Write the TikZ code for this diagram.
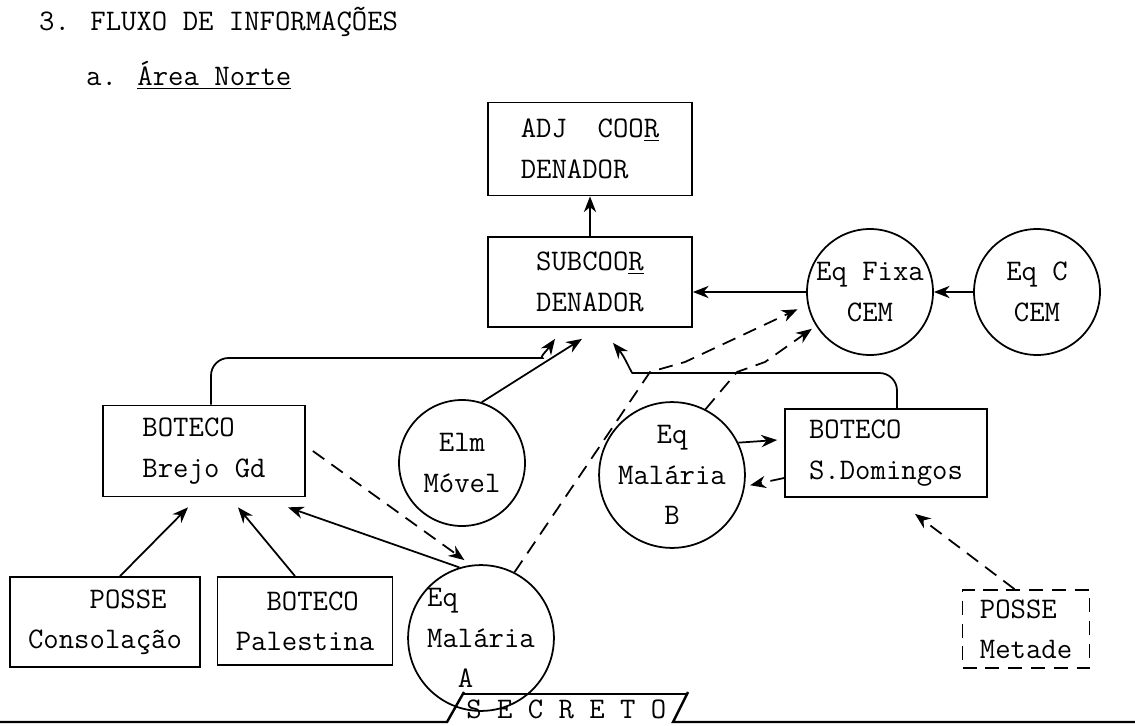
\documentclass[tikz,border=0pt]{standalone}
\usepackage{fontspec}
\usetikzlibrary{arrows.meta,positioning}

\begin{document}
\begin{tikzpicture}[
          x=0.02cm, y=-0.02cm,
          every node/.style={font=\ttfamily\fontsize{17}{23}\selectfont},
          box/.style={draw, line width=1pt, align=left, inner sep=0pt},
          unit/.style={draw, circle, line width=1pt, align=center, inner sep=0pt, minimum size=2.52cm},
          arr/.style={-{Stealth[length=9pt,width=7pt]}, line width=1pt},
          dasharr/.style={arr, dash pattern=on 8pt off 5pt}
        ]
        \useasboundingbox (0,0) rectangle (1135,726);

        % Headings
        \node[anchor=west] (title) at (33,22) {3. FLUXO DE INFORMAÇÕES};
        \node[anchor=west] (area) at (80,75) {a. \underline{Área Norte}};

        % Boxes
        \node[box, minimum width=4.08cm, minimum height=1.86cm] (adj) at (590,149) {ADJ\ \ COO\underline{R}\\DENADOR};
        \node[box, minimum width=4.08cm, minimum height=1.8cm] (sub) at (590,282) {SUBCOO\underline{R}\\DENADOR};
        \node[box, minimum width=4.04cm, minimum height=1.82cm] (brejo) at (204,451) {BOTECO\\Brejo Gd};
        \node[box, minimum width=4.04cm, minimum height=1.76cm] (sdom) at (886,453) {BOTECO\\S.Domingos};
        \node[box, minimum width=3.8cm, minimum height=1.8cm] (consol) at (105,622) {\ \ \ \ POSSE\\Consolação};
        \node[box, minimum width=3.5cm, minimum height=1.76cm] (pales) at (305,621) {\ \ BOTECO\\Palestina};
        \node[box, dash pattern=on 8pt off 5pt, minimum width=2.54cm, minimum height=1.56cm] (metade) at (1026,629) {POSSE\\Metade};

        % Circles
        \node[unit] (fixa) at (870,292) {Eq Fixa\\CEM};
        \node[unit] (eqc) at (1037,292) {Eq C\\CEM};
        \node[unit] (elm) at (462,463) {Elm\\Móvel};
        \node[unit] (malb) at (672,475) {Eq\\Malária\\B};
        \node[unit, align=left] (mala) at (481,638) {Eq\\Malária\\\ \ A};

        % Solid flows
        \draw[arr] (sub.north) -- (adj.south);
        \draw[arr] (fixa.west) -- (sub.east |- fixa.west);
        \draw[arr] (eqc.west) -- (fixa.east);
        \draw[arr, rounded corners=10pt] ([xshift=0.14cm]brejo.north) |- (525,358) to[out=0,in=-125] ([xshift=-0.7cm,yshift=-0.22cm]sub.south);
        \draw[arr] (elm.72) -- ([xshift=-0.16cm,yshift=-0.22cm]sub.south);
        \draw[arr, rounded corners=10pt] ([xshift=0.22cm]sdom.north) |- (650,373) to[out=180,in=-50] ([xshift=0.46cm,yshift=-0.3cm]sub.south);
        \draw[arr] (malb.26) -- ([xshift=-0.14cm,yshift=0.26cm]sdom.west);
        \draw[arr] (mala.107) -- ([xshift=1.68cm,yshift=-0.2cm]brejo.south);
        \draw[arr] ([xshift=0.3cm]consol.north) -- ([xshift=-0.32cm,yshift=-0.2cm]brejo.south);
        \draw[arr] ([xshift=-0.2cm]pales.north) -- ([xshift=0.68cm,yshift=-0.2cm]brejo.south);

        % Dashed flows
        \draw[dasharr] ([yshift=-0.5cm]sdom.west) -- ([xshift=0.1cm]malb.-8);
        \draw[dasharr] ([xshift=0.14cm]brejo.east) -- ([yshift=0.12cm]mala.103);
        \draw[dasharr] (mala.63) -- (650,372) -- (685,362) -- ([xshift=-0.2cm,yshift=-0.08cm]fixa.192);
        \draw[dasharr] (malb.63) -- (737,372) -- (765,362) -- ([xshift=-0.08cm,yshift=-0.06cm]fixa.212);
        \draw[dasharr] ([xshift=-0.23cm]metade.north) -- ([xshift=0.58cm,yshift=-0.32cm]sdom.south);

        % Stamp at the foot
        \node[anchor=base west, inner sep=0pt] (stamp) at (466,718) {S E C R E T O};
        \draw[line width=1.4pt] (0,722) -- (447,722) -- (464,692);
        \draw[line width=1pt] (462,694) -- (686,694);
        \draw[line width=1.4pt] (688,692) -- (673,722) -- (1135,722);

      \end{tikzpicture}
\end{document}
